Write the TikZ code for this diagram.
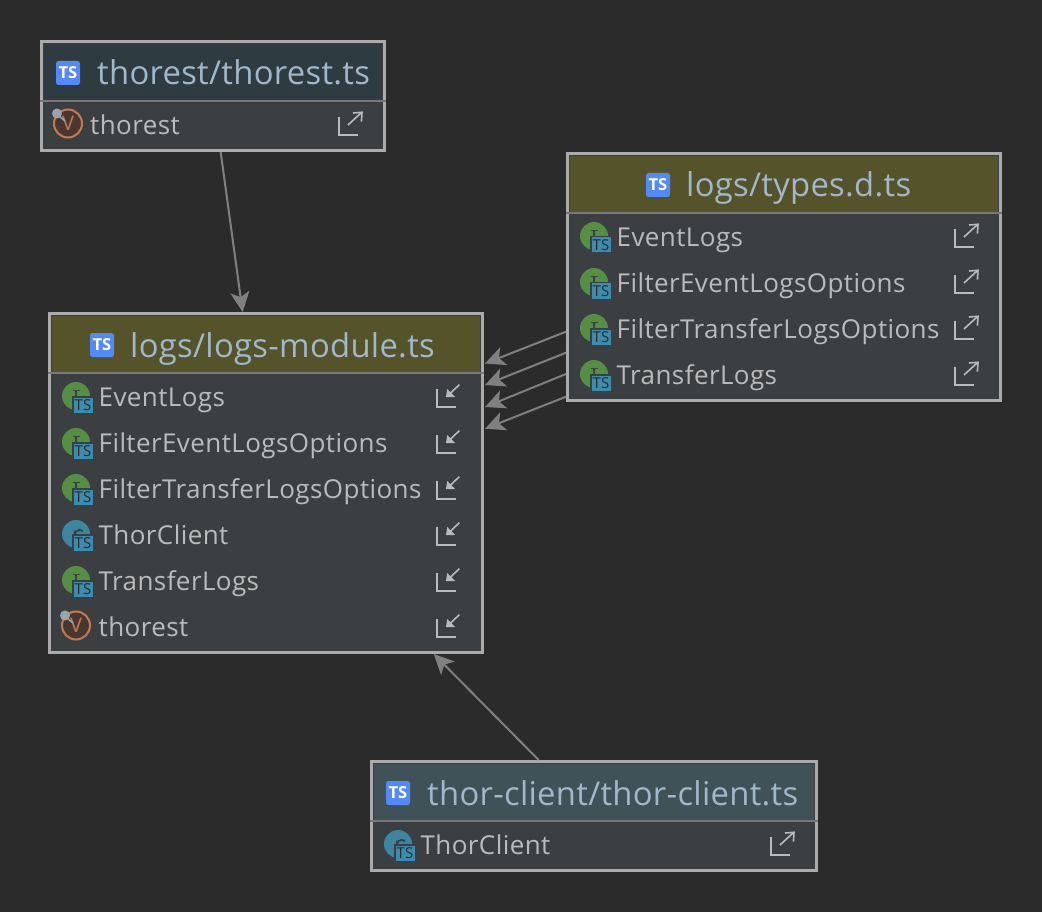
\documentclass[tikz,border=0pt]{standalone}
\usepackage{fontspec}
\setmainfont{Open Sans}
\newfontfamily\titlefont[LetterSpace=0.9]{Open Sans}
\newfontfamily\memberfont[LetterSpace=1.6]{Open Sans}
\usetikzlibrary{arrows.meta}
\definecolor{bgc}{HTML}{2B2B2B}
\definecolor{bodyc}{HTML}{3C3F41}
\definecolor{borderc}{HTML}{ABABAB}
\definecolor{divc}{HTML}{777777}
\definecolor{edgec}{HTML}{808080}
\definecolor{titlec}{HTML}{A0B8C9}
\definecolor{textc}{HTML}{BBBBBB}
\definecolor{hteal}{HTML}{2E3C42}
\definecolor{holive}{HTML}{54532A}
\definecolor{hslate}{HTML}{3F5257}
\definecolor{tsblue}{HTML}{548AF7}
\definecolor{tsteal}{HTML}{3C8CB0}
\definecolor{igreen}{HTML}{548F43}
\definecolor{cblue}{HTML}{3E86A0}
\definecolor{vfill}{HTML}{4A3830}
\definecolor{vline}{HTML}{C57B50}
\definecolor{pinc}{HTML}{9AA5AB}
\tikzset{
  x=1pt,y=-1pt,
  boxframe/.style={draw=borderc,line width=3pt,fill=bodyc,inner sep=0pt,outer sep=1.5pt},
  headband/.style={fill=#1,draw=none,inner sep=0pt,outer sep=0pt},
  divline/.style={draw=divc,line width=2pt},
  titletext/.style={anchor=base west,inner sep=0pt,text=titlec,font=\titlefont\fontsize{32.8}{36}\selectfont},
  membertext/.style={anchor=base west,inner sep=0pt,text=textc,font=\memberfont\fontsize{26}{30}\selectfont},
  edgeline/.style={draw=edgec,line width=2pt,-{Stealth[length=20pt,width=19pt,inset=5pt]}},
  iconline/.style={draw=textc,line width=2pt},
  tstile/.style={fill=tsblue,rounded corners=2.5pt,minimum width=24pt,minimum height=24pt,inner sep=0pt,text=white,font=\fontsize{16.5}{17}\selectfont\bfseries},
  tsbadge/.style={fill=tsteal,draw=bodyc,line width=1.5pt,minimum width=20.5pt,minimum height=16.5pt,inner sep=0pt,text=bgc,font=\fontsize{15}{16}\selectfont},
}
% name, x1,y1,x2,y2, divider y, header colour
\newcommand{\umlbox}[7]{%
  \pgfmathsetmacro{\cxv}{(#2+#4)/2}\pgfmathsetmacro{\cyv}{(#3+#5)/2}%
  \pgfmathsetmacro{\wv}{#4-#2-1}\pgfmathsetmacro{\hv}{#5-#3-1}%
  \pgfmathsetmacro{\hwv}{#4-#2-6}\pgfmathsetmacro{\hhv}{#6-#3-3}%
  \pgfmathsetmacro{\hcv}{(#3+3+#6)/2}%
  \node[boxframe,minimum width=\wv pt,minimum height=\hv pt] (#1) at (\cxv,\cyv) {};
  \node[headband=#7,minimum width=\hwv pt,minimum height=\hhv pt] (#1head) at (\cxv,\hcv) {};
  \draw[divline] (#1.west |- 0,#6) -- (#1.east |- 0,#6);
}
% name, x of icon left, centre y, title x, text
\newcommand{\umltitle}[5]{%
  \node[tstile] (#1icon) at (#2+12,#3) {TS};
  \node[titletext] (#1title) at (#4,#3+12) {#5};
}
% name, cx, cy, colour
\newcommand{\imember}[2]{%
  \node[circle,fill=igreen,minimum size=28pt,inner sep=0pt] (#1c) at (#2) {};
  \draw[bodyc,line width=1.8pt] ([xshift=-3.5pt,yshift=5.5pt]#1c.center) -- ([xshift=3.5pt,yshift=5.5pt]#1c.center);
  \draw[bodyc,line width=1.8pt] ([yshift=5.5pt]#1c.center) -- ([yshift=-4pt]#1c.center);
  \node[tsbadge] (#1b) at ([xshift=7pt,yshift=-9pt]#1c.center) {TS};
}
\newcommand{\cmember}[2]{%
  \node[circle,fill=cblue,minimum size=28pt,inner sep=0pt] (#1c) at (#2) {};
  \draw[bodyc,line width=1.8pt] ([xshift=7pt,yshift=3pt]#1c.center) arc[start angle=50,end angle=190,radius=5pt] -- ++(0,5pt);
  \node[tsbadge] (#1b) at ([xshift=7pt,yshift=-9pt]#1c.center) {TS};
}
\newcommand{\varmember}[3]{%
  \node[circle,draw=vline,fill=vfill,line width=2pt,minimum size=28pt,inner sep=0pt,text=vline,font=\fontsize{20}{21}\selectfont] (#1c) at (#2,#3-1.5) {V};
  \fill[pinc] (#2-11,#3-11.5) circle (5pt);
  \draw[pinc,line width=1.5pt] (#2-9,#3-9) -- (#2-3,#3-4);
}
% L bracket and outward / inward arrow
\newcommand{\exporticon}[2]{%
  \draw[iconline] (#1,#2-18) -- (#1,#2) -- (#1+19,#2);
  \draw[iconline,line width=1.6pt] (#1+9,#2-10) -- (#1+22.5,#2-22.5);
  \draw[iconline,line width=1.6pt] (#1+14,#2-22) -- (#1+23,#2-22.7) -- (#1+22.4,#2-13.3);
}
\newcommand{\importicon}[2]{%
  \draw[iconline] (#1,#2-18) -- (#1,#2) -- (#1+19,#2);
  \draw[iconline,line width=1.6pt] (#1+22.3,#2-22.3) -- (#1+11,#2-11.5);
  \fill[textc] (#1+9,#2-10) -- (#1+18,#2-10) -- (#1+10.3,#2-18) -- cycle;
}
\begin{document}
\begin{tikzpicture}
\fill[bgc] (0,0) rectangle (1042,912);
\useasboundingbox (0,0) rectangle (1042,912);

\umlbox{thorest}{41}{41}{385}{151}{101}{hteal}
\umlbox{types}{567}{153}{1001}{401}{213}{holive}
\umlbox{logs}{49}{313}{483}{653}{373}{holive}
\umlbox{client}{371}{761}{817}{871}{821}{hslate}

\umltitle{thorest}{56}{73}{97}{thorest/thorest.ts}
\umltitle{types}{646}{185}{686}{logs/types.d.ts}
\umltitle{logs}{90}{345}{130}{logs/logs-module.ts}
\umltitle{client}{386}{793}{427}{thor-client/thor-client.ts}

% thorest members
\varmember{ma}{68}{125}
\node[membertext] (matext) at (90,134.7) {thorest};
\exporticon{339}{135}

% types members
\imember{mb}{594,236}
\node[membertext] (mbtext) at (616.5,246.5) {EventLogs};
\exporticon{955}{247}
\imember{mc}{594,282}
\node[membertext] (mctext) at (616.5,292.5) {FilterEventLogsOptions};
\exporticon{955}{293}
\imember{md}{594,328}
\node[membertext] (mdtext) at (616.5,338.5) {FilterTransferLogsOptions};
\exporticon{955}{339}
\imember{me}{594,374}
\node[membertext] (metext) at (616.5,384.5) {TransferLogs};
\exporticon{955}{385}

% logs members
\imember{mf}{76,396}
\node[membertext] (mftext) at (98.5,406.5) {EventLogs};
\importicon{437}{407}
\imember{mg}{76,442}
\node[membertext] (mgtext) at (98.5,452.5) {FilterEventLogsOptions};
\importicon{437}{453}
\imember{mh}{76,488}
\node[membertext] (mhtext) at (98.5,498.5) {FilterTransferLogsOptions};
\importicon{437}{499}
\cmember{mi}{76,534}
\node[membertext] (mitext) at (98.5,544.5) {ThorClient};
\importicon{437}{545}
\imember{mj}{76,580}
\node[membertext] (mjtext) at (98.5,590.5) {TransferLogs};
\importicon{437}{591}
\varmember{mk}{76}{627}
\node[membertext] (mktext) at (98.5,636.5) {thorest};
\importicon{437}{637}

% client members
\cmember{ml}{398,844}
\node[membertext] (mltext) at (420.5,854.5) {ThorClient};
\exporticon{771}{855}

% connectors
\draw[edgeline] (thorest) -- (logs);
\draw[edgeline] (client) -- (logs);
\coordinate (s1) at (566,331.7); \coordinate (e1) at (485,363.5);
\coordinate (s2) at (566,352.7); \coordinate (e2) at (485,385);
\coordinate (s3) at (566,374); \coordinate (e3) at (485,407);
\coordinate (s4) at (566,396.7); \coordinate (e4) at (485,428.7);
\draw[edgeline] (s1) -- (e1);
\draw[edgeline] (s2) -- (e2);
\draw[edgeline] (s3) -- (e3);
\draw[edgeline] (s4) -- (e4);
\end{tikzpicture}
\end{document}
